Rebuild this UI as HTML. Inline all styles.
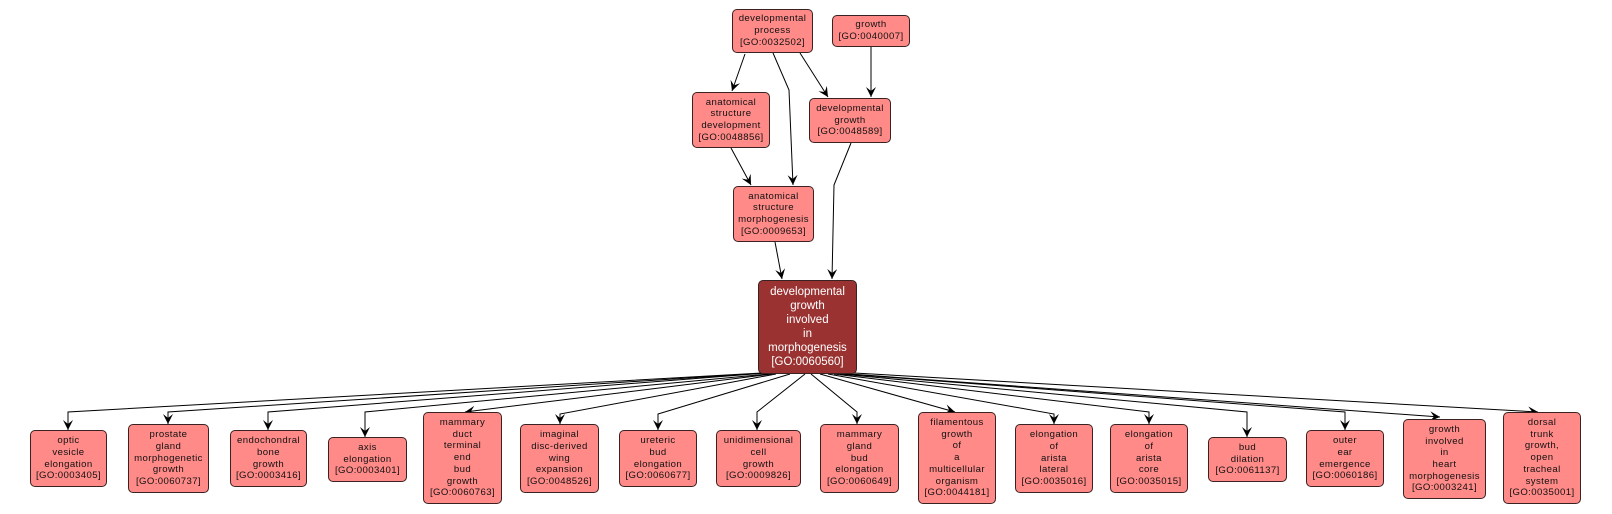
<!DOCTYPE html>
<html><head><meta charset="utf-8"><style>
body{margin:0;width:1612px;height:514px;background:#fff;position:relative;overflow:hidden;font-family:"Liberation Sans",sans-serif}
.b{position:absolute;box-sizing:border-box;background:#ff8a88;border:1px solid #3a2222;border-radius:5px;display:flex;align-items:center;justify-content:center;text-align:center;font-size:9.6px;line-height:11.7px;letter-spacing:0.4px;color:#111}
.c{background:#9a3232;color:#fff;font-size:11.5px;line-height:14px;letter-spacing:0}
svg{position:absolute;left:0;top:0}
</style></head><body>
<svg width="1612" height="514" viewBox="0 0 1612 514">
<defs><marker id="a" markerWidth="12" markerHeight="10" refX="10" refY="5" orient="auto" markerUnits="userSpaceOnUse"><path d="M0,0 L10,5 L0,10 L4,5 Z" fill="#000"/></marker></defs>
<g fill="none" stroke="#000" stroke-width="1" marker-end="url(#a)">
<path d="M745,54 L732,91"/>
<path d="M773,53 L789,90 L793,185"/>
<path d="M800,53 L828,97"/>
<path d="M871,47 L871,97"/>
<path d="M731,148 L751,185"/>
<path d="M851,143 L834,185 L832,279"/>
<path d="M775,242 L782,279"/>
<path d="M762,373 L68,412 L68,430"/>
<path d="M764,373 L168,412 L168,424"/>
<path d="M766,373 L268,412 L268,430"/>
<path d="M768,374 L365,412 L365,437"/>
<path d="M772,374 L465,412"/>
<path d="M776,374 L560,414 L560,424"/>
<path d="M790,374 L658,414 L658,430"/>
<path d="M805,374 L757,412 L757,430"/>
<path d="M811,374 L857,412 L857,424"/>
<path d="M820,374 L955,412"/>
<path d="M828,374 L1054,414 L1054,424"/>
<path d="M834,374 L1149,412 L1149,424"/>
<path d="M840,374 L1247,412 L1247,437"/>
<path d="M846,374 L1345,412 L1345,430"/>
<path d="M850,374 L1440,417"/>
<path d="M854,373 L1538,412"/>
</g></svg>
<div class="b" style="left:732px;top:9px;width:81px;height:44px">developmental<br>process<br>[GO:0032502]</div>
<div class="b" style="left:832px;top:15px;width:78px;height:32px">growth<br>[GO:0040007]</div>
<div class="b" style="left:692px;top:92px;width:78px;height:56px">anatomical<br>structure<br>development<br>[GO:0048856]</div>
<div class="b" style="left:809px;top:98px;width:82px;height:45px">developmental<br>growth<br>[GO:0048589]</div>
<div class="b" style="left:733px;top:186px;width:81px;height:56px">anatomical<br>structure<br>morphogenesis<br>[GO:0009653]</div>
<div class="b c" style="left:758px;top:280px;width:99px;height:94px">developmental<br>growth<br>involved<br>in<br>morphogenesis<br>[GO:0060560]</div>
<div class="b" style="left:30px;top:430px;width:77px;height:57px">optic<br>vesicle<br>elongation<br>[GO:0003405]</div>
<div class="b" style="left:128px;top:424px;width:81px;height:69px">prostate<br>gland<br>morphogenetic<br>growth<br>[GO:0060737]</div>
<div class="b" style="left:230px;top:430px;width:77px;height:57px">endochondral<br>bone<br>growth<br>[GO:0003416]</div>
<div class="b" style="left:328px;top:437px;width:79px;height:45px">axis<br>elongation<br>[GO:0003401]</div>
<div class="b" style="left:423px;top:412px;width:79px;height:92px">mammary<br>duct<br>terminal<br>end<br>bud<br>growth<br>[GO:0060763]</div>
<div class="b" style="left:520px;top:424px;width:79px;height:69px">imaginal<br>disc-derived<br>wing<br>expansion<br>[GO:0048526]</div>
<div class="b" style="left:619px;top:430px;width:78px;height:57px">ureteric<br>bud<br>elongation<br>[GO:0060677]</div>
<div class="b" style="left:716px;top:430px;width:85px;height:57px">unidimensional<br>cell<br>growth<br>[GO:0009826]</div>
<div class="b" style="left:820px;top:424px;width:79px;height:69px">mammary<br>gland<br>bud<br>elongation<br>[GO:0060649]</div>
<div class="b" style="left:918px;top:412px;width:78px;height:92px">filamentous<br>growth<br>of<br>a<br>multicellular<br>organism<br>[GO:0044181]</div>
<div class="b" style="left:1015px;top:424px;width:78px;height:69px">elongation<br>of<br>arista<br>lateral<br>[GO:0035016]</div>
<div class="b" style="left:1110px;top:424px;width:78px;height:69px">elongation<br>of<br>arista<br>core<br>[GO:0035015]</div>
<div class="b" style="left:1208px;top:437px;width:79px;height:45px">bud<br>dilation<br>[GO:0061137]</div>
<div class="b" style="left:1306px;top:430px;width:78px;height:57px">outer<br>ear<br>emergence<br>[GO:0060186]</div>
<div class="b" style="left:1403px;top:419px;width:83px;height:80px">growth<br>involved<br>in<br>heart<br>morphogenesis<br>[GO:0003241]</div>
<div class="b" style="left:1503px;top:412px;width:78px;height:92px">dorsal<br>trunk<br>growth,<br>open<br>tracheal<br>system<br>[GO:0035001]</div>
</body></html>
